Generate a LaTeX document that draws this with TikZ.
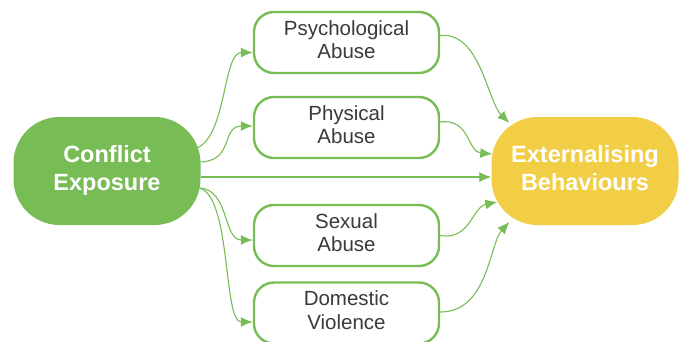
\documentclass[tikz,border=0pt]{standalone}
\usepackage{fontspec}
\setmainfont{Liberation Sans}
\usetikzlibrary{arrows.meta}
\definecolor{grn}{HTML}{77BC55}
\definecolor{ylw}{HTML}{F2CE46}
\definecolor{txt}{HTML}{3A3A3A}
\newcommand{\twoline}[3]{\raisebox{#3}{\begin{tabular}{@{}c@{}}#1\\#2\end{tabular}}}
\begin{document}
\begin{tikzpicture}[x=1pt,y=-1pt,
  bigbox/.style={rectangle,rounded corners=46pt,minimum width=187pt,minimum height=108pt,
    text=white,font=\fontsize{23.5}{28}\selectfont\bfseries,inner sep=0pt},
  midbox/.style={rectangle,rounded corners=20pt,draw=grn,line width=2.4pt,fill=white,
    minimum width=185pt,minimum height=61pt,text=txt,inner sep=0pt,
    font=\fontsize{20.5}{23.5}\selectfont},
  conn/.style={draw=grn,line width=1.1pt,-{Latex[length=12pt,width=10pt]}}]
\useasboundingbox (0,0) rectangle (684,341);
\node[bigbox,fill=grn] (ce) at (107,171) {\twoline{Conflict}{Exposure}{2pt}};
\node[bigbox,fill=ylw] (eb) at (585,171) {\twoline{Externalising}{Behaviours}{2pt}};
\node[midbox] (pa) at (346.5,42.5) {\twoline{Psychological}{Abuse}{5.5pt}};
\node[midbox] (ph) at (346.5,127.5) {\twoline{Physical}{Abuse}{5.5pt}};
\node[midbox] (sa) at (346.5,235.5) {\twoline{Sexual}{Abuse}{5.5pt}};
\node[midbox] (dv) at (346.5,313) {\twoline{Domestic}{Violence}{5.5pt}};
% left connectors
\draw[conn] ([xshift=-4pt,yshift=23pt]ce.east) .. controls +(30,-12) and +(-30,0) .. ([yshift=-10pt]pa.west);
\draw[conn] ([xshift=-2pt,yshift=9pt]ce.east) .. controls +(36,0) and +(-32,0) .. ([yshift=1.5pt]ph.west);
\draw[conn] ([yshift=-6pt]ce.east) -- ([yshift=-6pt]eb.west);
\draw[conn] ([xshift=-1pt,yshift=-17pt]ce.east) .. controls +(30,2) and +(-30,0) .. ([yshift=-4.5pt]sa.west);
\draw[conn] ([xshift=-1pt,yshift=-17pt]ce.east) .. controls +(32,10) and +(-30,0) .. ([yshift=-9pt]dv.west);
% right connectors
\draw[conn] ([yshift=7pt]pa.east) .. controls +(40,-4) and +(-22,-22) .. ([xshift=18pt,yshift=48pt]eb.west);
\draw[conn] ([yshift=5.5pt]ph.east) .. controls +(30,-4) and +(-25,-2) .. ([xshift=1pt,yshift=17pt]eb.west);
\draw[conn] ([yshift=0pt]sa.east) .. controls +(30,5) and +(-25,5) .. ([xshift=6pt,yshift=-31pt]eb.west);
\draw[conn] ([yshift=1pt]dv.east) .. controls +(48,0) and +(-20,22) .. ([xshift=18pt,yshift=-51pt]eb.west);
\end{tikzpicture}
\end{document}
